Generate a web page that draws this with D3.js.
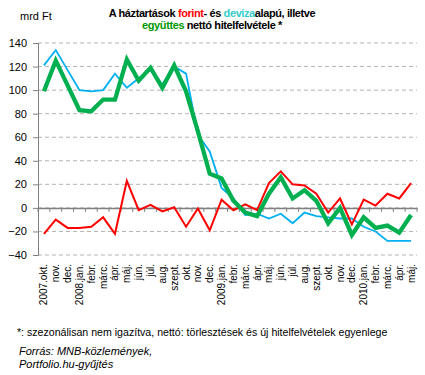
<!DOCTYPE html>
<html>
<head>
<meta charset="utf-8">
<script src="https://cdn.jsdelivr.net/npm/d3@7"></script>
<style>
  body { margin: 0; background: #fff; }
  text { font-family: "Liberation Sans", Arial, sans-serif; }
</style>
</head>
<body>
<div id="chart"></div>
<script>
// categories (months)
var months = ["2007.okt.", "nov.", "dec.", "2008.jan.", "febr.", "márc.", "ápr.", "máj.", "jún.", "júl.",
  "aug.", "szept.", "okt.", "nov.", "dec.", "2009.jan.", "febr.", "márc.", "ápr.", "máj.", "jún.", "júl.",
  "aug.", "szept.", "okt.", "nov.", "dec.", "2010.jan.", "febr.", "márc.", "ápr.", "máj."];

// net borrowing, mrd Ft
var forint = [-22, -10, -17, -17, -16, -8, -22, 23, -2, 2.5, -3, 0.5, -16, -0.5, -19, 7, -2, 3, -2, 21, 31, 20, 19, 12,
  -4, 8, -14, 7, 2, 12, 8, 21];
var deviza = [121, 134, 117, 100, 99, 100, 114, 102, 110, 117, 105, 120, 114, 62, 48, 17, 8, -6, -5, -9, -5, -13, -4, -7,
  -8, -9, -9, -16, -20, -28, -28, -28];
var egyutt = [99, 125, 104, 83, 82, 92, 92, 126, 108, 119, 102, 121, 99, 65, 29, 25, 6, -4, -7, 12, 26, 8, 15, 6,
  -13, 0, -23, -8, -17, -15, -21, -6];

var yTicks = [-40, -20, 0, 20, 40, 60, 80, 100, 120, 140];

var svgWidth = 425;
var svgHeight = 375;

var margin = { top: 43, right: 8, bottom: 120, left: 38 };
var chartWidth = svgWidth - margin.left - margin.right;
var chartHeight = svgHeight - margin.top - margin.bottom;

var svg = d3.select("#chart")
  .append("svg")
  .attr("width", svgWidth)
  .attr("height", svgHeight);

var chartGroup = svg.append("g")
  .attr("transform", `translate(${margin.left}, ${margin.top})`);

// month names repeat, so the band scale runs on the index
var xScale = d3.scaleBand()
  .domain(d3.range(months.length))
  .range([0, chartWidth]);

var yScale = d3.scaleLinear()
  .domain([-40, 140])
  .range([chartHeight, 0]);

// gridlines
chartGroup.selectAll(".grid")
  .data(yTicks)
  .enter()
  .append("line")
  .attr("x1", 0)
  .attr("x2", chartWidth)
  .attr("y1", d => yScale(d))
  .attr("y2", d => yScale(d))
  .attr("stroke", "#b3b3b3")
  .attr("stroke-width", 1)
  .attr("stroke-dasharray", "4,3");

// y axis
var leftAxis = d3.axisLeft(yScale).tickValues(yTicks).tickSize(5).tickPadding(6);
var yAxisG = chartGroup.append("g").call(leftAxis);
yAxisG.select(".domain").attr("stroke", "#808080");
yAxisG.selectAll(".tick line").attr("stroke", "#808080");
yAxisG.selectAll(".tick text")
  .attr("fill", "#000")
  .style("font-size", "11px")
  .style("font-family", "'Liberation Sans', Arial, sans-serif");

// zero line with category ticks
var bottomAxis = d3.axisBottom(xScale).tickSize(0).tickFormat("");
var zeroG = chartGroup.append("g")
  .attr("transform", `translate(0, ${yScale(0)})`)
  .call(bottomAxis);
zeroG.select(".domain").attr("stroke", "#808080").attr("stroke-width", 1.5);
zeroG.selectAll(".cat-tick")
  .data(d3.range(months.length + 1))
  .enter()
  .append("line")
  .attr("x1", d => d * xScale.step())
  .attr("x2", d => d * xScale.step())
  .attr("y1", 0)
  .attr("y2", 4)
  .attr("stroke", "#808080");

// month labels at the bottom
chartGroup.selectAll(".mlabel")
  .data(months)
  .enter()
  .append("text")
  .attr("transform", (d, i) => `translate(${xScale(i) + xScale.bandwidth() / 2 + 3.5}, ${chartHeight + 9}) rotate(-90)`)
  .attr("text-anchor", "end")
  .style("font-size", "10px")
  .attr("fill", "#000")
  .text(d => d);

// lines
var line = d3.line()
  .x((d, i) => xScale(i) + xScale.bandwidth() / 2)
  .y(d => yScale(d));

chartGroup.append("path")
  .datum(deviza)
  .attr("fill", "none")
  .attr("stroke", "#00b0f0")
  .attr("stroke-width", 1.8)
  .attr("d", line);

chartGroup.append("path")
  .datum(forint)
  .attr("fill", "none")
  .attr("stroke", "#ff0000")
  .attr("stroke-width", 2)
  .attr("d", line);

chartGroup.append("path")
  .datum(egyutt)
  .attr("fill", "none")
  .attr("stroke", "#00b050")
  .attr("stroke-width", 4.3)
  .attr("d", line);

// title
var t1 = svg.append("text")
  .attr("x", 212)
  .attr("y", 17)
  .attr("text-anchor", "middle")
  .style("font-size", "11px")
  .style("font-weight", "bold")
  .style("letter-spacing", "-0.4px")
  .attr("fill", "#000");
t1.append("tspan").text("A háztartások ");
t1.append("tspan").attr("fill", "#ff0000").text("forint");
t1.append("tspan").text("- és ");
t1.append("tspan").attr("fill", "#33cccc").text("deviza");
t1.append("tspan").text("alapú, illetve");

var t2 = svg.append("text")
  .attr("x", 212)
  .attr("y", 29)
  .attr("text-anchor", "middle")
  .style("font-size", "11px")
  .style("font-weight", "bold")
  .style("letter-spacing", "-0.4px")
  .attr("fill", "#000");
t2.append("tspan").attr("fill", "#009900").text("együttes");
t2.append("tspan").text(" nettó hitelfelvétele *");

svg.append("text")
  .attr("x", 20)
  .attr("y", 20)
  .style("font-size", "11px")
  .attr("fill", "#000")
  .text("mrd Ft");

// footnote and source
svg.append("text")
  .attr("x", 17)
  .attr("y", 336)
  .style("font-size", "10.6px")
  .attr("fill", "#000")
  .text("*: szezonálisan nem igazítva, nettó: törlesztések és új hitelfelvételek egyenlege");

svg.append("text")
  .attr("x", 19)
  .attr("y", 355)
  .style("font-size", "11px")
  .style("font-style", "italic")
  .attr("fill", "#000")
  .text("Forrás: MNB-közlemények,");

svg.append("text")
  .attr("x", 19)
  .attr("y", 368)
  .style("font-size", "11px")
  .style("font-style", "italic")
  .attr("fill", "#000")
  .text("Portfolio.hu-gyűjtés");
</script>
</body>
</html>
